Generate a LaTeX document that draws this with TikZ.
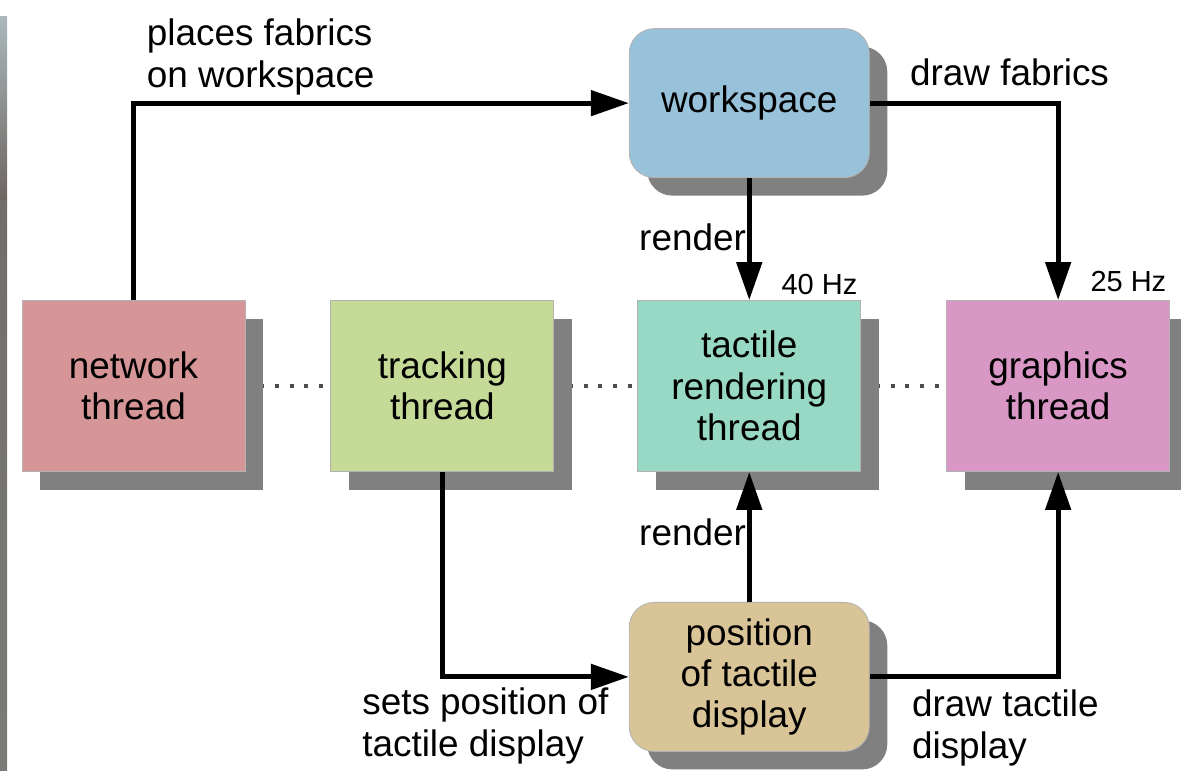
\documentclass[tikz,border=0pt]{standalone}
\usepackage{fontspec}
\setmainfont{Liberation Sans}
\usepackage{tikz}
\usetikzlibrary{positioning, arrows.meta, calc, shadows, backgrounds}
\definecolor{netcol}{HTML}{D69697}
\definecolor{trackcol}{HTML}{C5DA97}
\definecolor{tactcol}{HTML}{97D9C4}
\definecolor{gfxcol}{HTML}{D897C4}
\definecolor{wscol}{HTML}{98C2DA}
\definecolor{poscol}{HTML}{D9C497}
\definecolor{shade}{HTML}{808080}
\definecolor{stripup}{HTML}{AAB8BC}
\definecolor{stripmid}{HTML}{6E6560}
\definecolor{striplow}{HTML}{7A7C78}

\begin{document}
\begin{tikzpicture}[
  every node/.style={font=\fontsize{21}{23.5}\selectfont, align=center},
  thread/.style={rectangle, draw=black!30, line width=0.5pt,
                 minimum width=4.46cm, minimum height=3.42cm, inner sep=2pt,
                 drop shadow={shadow xshift=0.36cm, shadow yshift=-0.36cm,
                              fill=shade, opacity=1}},
  store/.style={thread, rounded corners=0.5cm, minimum width=4.8cm,
                minimum height=2.98cm},
  lbl/.style={inner sep=0pt, align=left},
  hz/.style={inner sep=0pt, font=\fontsize{16.5}{18}\selectfont},
  arr/.style={-{Triangle[length=0.76cm, width=0.5cm]}, line width=0.1cm},
  dots/.style={line width=0.08cm, dash pattern=on 0.08cm off 0.214cm, black!70}
]
\useasboundingbox (0,0) rectangle (23.62,-15.4);
% edge of the neighbouring photo
\shade[top color=stripup, bottom color=stripmid] (0,-0.32) rectangle (0.14,-4.0);
\shade[top color=stripmid!70!gray, bottom color=striplow] (0,-4.0) rectangle (0.14,-15.4);

\node[thread, fill=netcol] (network) at (2.67,-7.72) {network\\thread};
\node[thread, fill=trackcol, right=1.7cm of network]  (tracking) {tracking\\thread};
\node[thread, fill=tactcol, right=1.66cm of tracking] (tactile)  {tactile\\rendering\\thread};
\node[thread, fill=gfxcol, right=1.7cm of tactile]    (graphics) {graphics\\thread};
\node[store, fill=wscol, above=2.44cm of tactile]     (workspace) {workspace};
\node[store, fill=poscol, below=2.6cm of tactile]     (position) {position\\of tactile\\display};

% dotted links between the threads
\begin{scope}[on background layer]
\draw[dots] (network)  -- (tracking);
\draw[dots] (tracking) -- (tactile);
\draw[dots] (tactile)  -- (graphics);
\end{scope}

\draw[arr] (network.north)  |- (workspace.west);
\draw[arr] (workspace.east) -| (graphics.north);
\draw[arr] (workspace)      -- (tactile);
\draw[arr] (tracking.south) |- (position.west);
\draw[arr] (position)       -- (tactile);
\draw[arr] (position.east)  -| (graphics.south);

\node[lbl, anchor=south west] (placeslbl) at ($(network.north |- workspace.west)+(0.26,0.16)$) {places fabrics\\on workspace};
\node[lbl, anchor=base west]  (drawlbl)   at ($(workspace.east)+(0.8,0.36)$) {draw fabrics};
\node[lbl, anchor=base east]  (renderup)  at ($(workspace.south)+(-0.06,-1.44)$) {render};
\node[hz, anchor=base west]   (hzforty)   at ($(tactile.north)+(0.64,0.12)$) {40 Hz};
\node[hz, anchor=base west]   (hztwenty)  at ($(graphics.north)+(0.64,0.18)$) {25 Hz};
\node[lbl, anchor=base east]  (renderdn)  at ($(tactile.south)+(-0.06,-1.48)$) {render};
\node[lbl, anchor=north east] (setslbl)   at ($(position.west)+(-0.4,-0.22)$) {sets position of\\tactile display};
\node[lbl, anchor=north west] (drawtlbl)  at ($(position.east)+(0.84,-0.26)$) {draw tactile\\display};
\end{tikzpicture}
\end{document}
